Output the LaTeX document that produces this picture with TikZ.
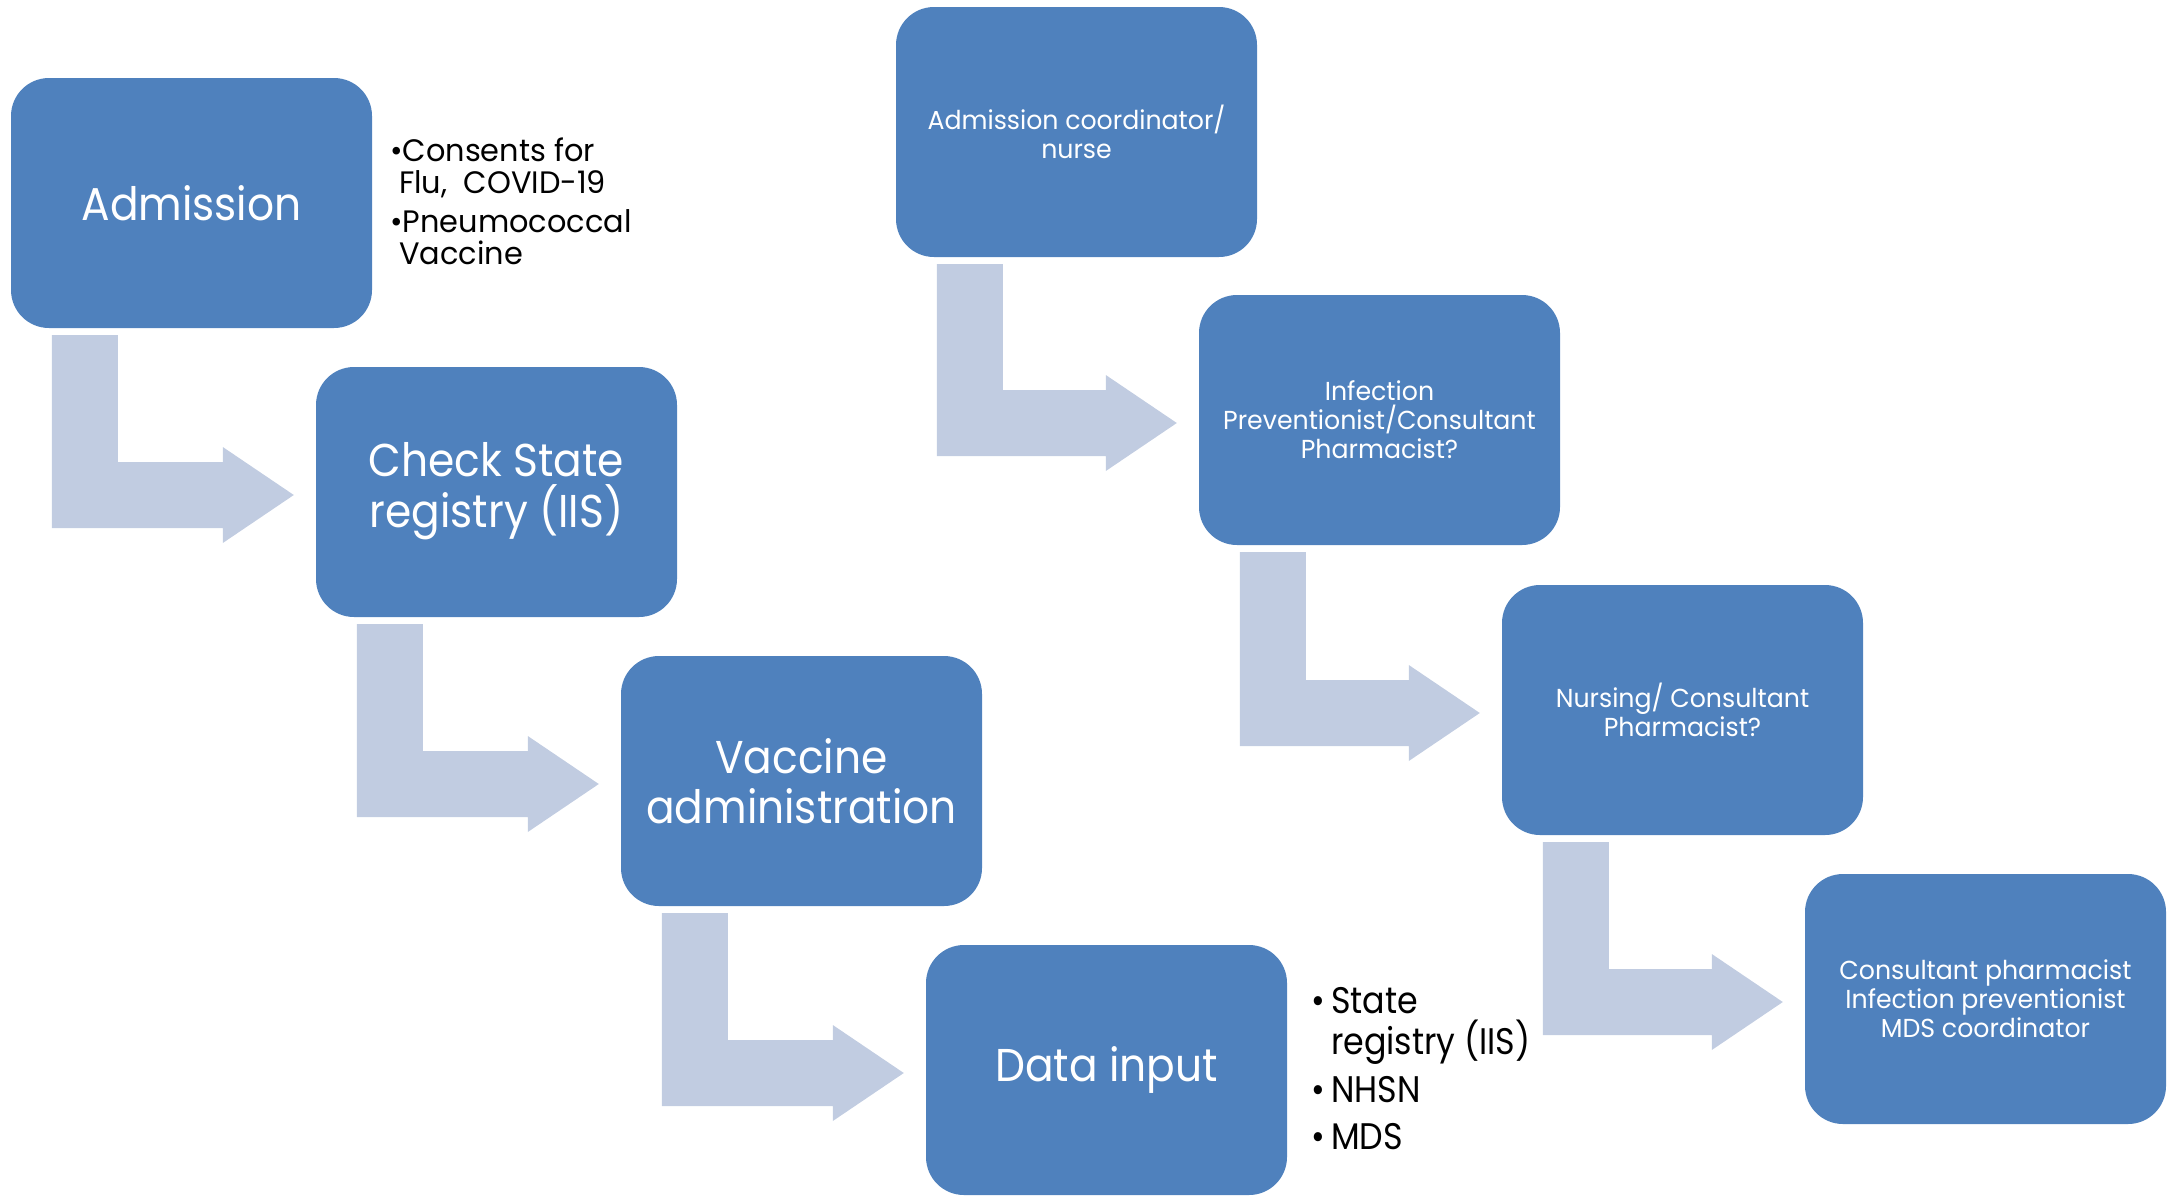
\documentclass[tikz,border=0pt]{standalone}
\usepackage{fontspec}
\setmainfont{Poppins}[FakeStretch=0.92]
\newfontfamily\smallfam{Poppins}[FakeStretch=0.97]
\newfontfamily\notefam{Poppins}[FakeStretch=0.98]
\newfontfamily\datafam{Poppins}[FakeStretch=0.9]
\usetikzlibrary{calc}
\definecolor{boxblue}{HTML}{4F81BD}
\definecolor{arrowgray}{HTML}{C1CCE1}
\tikzset{
  stage/.style={rectangle, rounded corners=38pt, fill=boxblue, draw=none,
    minimum width=361pt, minimum height=250pt, inner sep=0pt, align=center, text=white},
  bigtext/.style={font=\fontsize{46}{50}\selectfont},
  smalltext/.style={font=\smallfam\fontsize{26}{29}\selectfont},
  arrowfill/.style={fill=arrowgray},
  notes/.style={align=left, anchor=north west, inner sep=0pt, text=black}
}
\newcommand\bentarr[2]{%
  \fill[arrowfill] let \p1=(#1.south west), \p2=(#2.west) in
    (\x1+41pt,\y1-7pt) -- (\x1+107pt,\y1-7pt) -- (\x1+107pt,\y2+30pt)
    -- (\x2-93pt,\y2+30pt) -- (\x2-93pt,\y2+45pt) -- (\x2-22pt,\y2-3pt)
    -- (\x2-93pt,\y2-51pt) -- (\x2-93pt,\y2-36pt) -- (\x1+41pt,\y2-36pt) -- cycle;}
\begin{document}
\begin{tikzpicture}[x=1pt,y=-1pt]
\useasboundingbox (0,0) rectangle (2179,1195);
% left chain
\node[stage,bigtext] (adm) at (191.5,203) {Admission};
\node[stage,bigtext] (chk) at (496.5,492)
  {\raisebox{-17pt}{\begin{tabular}{@{}c@{}}Check State\\[-6pt]registry (IIS)\end{tabular}}};
\node[stage,bigtext] (vac) at (801.5,781) {Vaccine\\administration};
\node[stage,bigtext] (dat) at (1106.5,1070) {Data input};
% right chain
\node[stage,smalltext] (coord) at (1076.5,132) {Admission coordinator/\\nurse};
\node[stage,smalltext] (inf) at (1379.5,420) {Infection\\Preventionist/Consultant\\Pharmacist?};
\node[stage,smalltext] (nurs) at (1682.5,710) {Nursing/ Consultant\\Pharmacist?};
\node[stage,smalltext] (cons) at (1985.5,999) {Consultant pharmacist\\Infection preventionist\\MDS coordinator};
% notes
\node[notes,font=\notefam\fontsize{31}{32}\selectfont] (admnotes) at (390,138)
  {•Consents for\\\hspace{9pt}Flu,\ \ COVID-19\\[7pt]•Pneumococcal\\\hspace{9pt}Vaccine};
\node[notes,font=\datafam\fontsize{37}{41}\selectfont] (datnotes) at (1311,987)
  {•\,State\\\phantom{•\,}registry (IIS)\\[7pt]•\,NHSN\\[6pt]•\,MDS};
% bent arrows
\bentarr{adm}{chk}
\bentarr{chk}{vac}
\bentarr{vac}{dat}
\bentarr{coord}{inf}
\bentarr{inf}{nurs}
\bentarr{nurs}{cons}
\end{tikzpicture}
\end{document}
